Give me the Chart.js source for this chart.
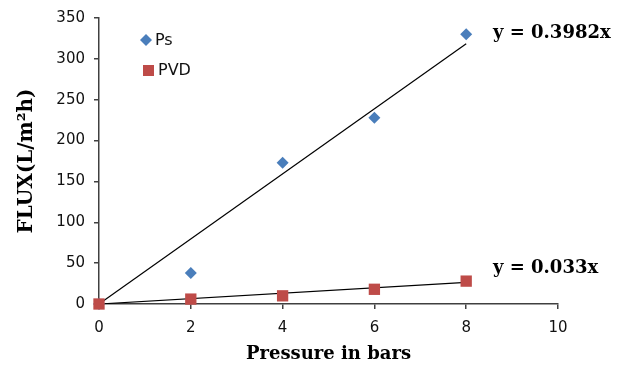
<!DOCTYPE html>
<html>
<head>
<meta charset="utf-8">
<script src="https://cdn.jsdelivr.net/npm/chart.js@4.4.1/dist/chart.umd.min.js"></script>
<style>
  html, body { margin: 0; padding: 0; background: #fff; }
  #wrap { width: 623px; height: 371px; }
</style>
</head>
<body>
<div id="wrap"><canvas id="fluxChart" width="623" height="371"></canvas></div>
<script>
// pressure (bars) and flux readings
const pressure = [0, 2, 4, 6, 8];
const psFlux = [0, 38, 173, 228, 330];
const pvdFlux = [0, 6, 10, 18, 28];

// trendline slopes (drawn through origin) and their printed equations
const trendSlopes = [39.82, 3.3];
const trendLabels = ['y = 0.3982x', 'y = 0.033x'];
const seriesNames = ['Ps', 'PVD'];

const xTicks = [0, 2, 4, 6, 8, 10];
const yTicks = [0, 50, 100, 150, 200, 250, 300, 350];

const psColor = '#4a7ebb';
const pvdColor = '#be4b48';
const axisColor = '#404040';

const toPoints = (xs, ys) => xs.map((x, i) => ({ x: x, y: ys[i] }));
const trendPoints = slope => [{ x: 0, y: 0 }, { x: 8, y: 8 * slope }];

// legend + equation text, drawn on top
const overlay = {
    id: 'overlay',
    afterDraw(chart) {
        const ctx = chart.ctx;
        const ys = chart.scales.y;
        ctx.save();

        // legend in the upper left of the plot
        ctx.fillStyle = psColor;
        ctx.beginPath();
        ctx.moveTo(146, 34); ctx.lineTo(152, 40); ctx.lineTo(146, 46); ctx.lineTo(140, 40);
        ctx.closePath();
        ctx.fill();
        ctx.fillStyle = pvdColor;
        ctx.fillRect(143, 65, 11, 11);

        ctx.fillStyle = '#111';
        ctx.font = '16px "DejaVu Sans"';
        ctx.textBaseline = 'middle';
        ctx.textAlign = 'left';
        ctx.fillText(seriesNames[0], 155, 41);
        ctx.fillText(seriesNames[1], 158, 71);

        // trendline equations
        ctx.font = 'bold 18px "DejaVu Serif"';
        ctx.fillStyle = '#000';
        ctx.fillText(trendLabels[0], 493, ys.getPixelForValue(8 * trendSlopes[0]) - 10);
        ctx.fillText(trendLabels[1], 493, ys.getPixelForValue(8 * trendSlopes[1]) - 14);
        ctx.restore();
    }
};

const ctx = document.getElementById('fluxChart').getContext('2d');
new Chart(ctx, {
    type: 'scatter',
    data: {
        datasets: [
            {
                label: seriesNames[0],
                data: toPoints(pressure, psFlux),
                pointStyle: 'rectRot',
                pointRadius: 6,
                backgroundColor: psColor,
                borderColor: psColor,
                borderWidth: 0,
                clip: false,
                order: 1
            },
            {
                label: seriesNames[1],
                data: toPoints(pressure, pvdFlux),
                pointStyle: 'rect',
                pointRadius: 8,
                backgroundColor: pvdColor,
                borderColor: pvdColor,
                borderWidth: 0,
                clip: false,
                order: 0
            },
            {
                label: 'Ps trend',
                type: 'line',
                data: trendPoints(trendSlopes[0]),
                borderColor: '#000',
                borderWidth: 1.2,
                pointRadius: 0,
                fill: false,
                order: 2
            },
            {
                label: 'PVD trend',
                type: 'line',
                data: trendPoints(trendSlopes[1]),
                borderColor: '#000',
                borderWidth: 1.2,
                pointRadius: 0,
                fill: false,
                order: 2
            }
        ]
    },
    options: {
        responsive: false,
        animation: false,
        layout: { padding: { left: 0, top: 16, right: 65, bottom: 0 } },
        plugins: {
            legend: { display: false },
            tooltip: { enabled: false }
        },
        scales: {
            x: {
                type: 'linear',
                min: 0,
                max: 10,
                afterBuildTicks: axis => { axis.ticks = xTicks.map(v => ({ value: v })); },
                afterFit: axis => { axis.height = 67; },
                grid: { drawOnChartArea: false, drawTicks: true, tickLength: 5, color: axisColor, lineWidth: 1.5 },
                border: { color: axisColor, width: 1.5 },
                ticks: { color: '#111', font: { family: 'DejaVu Sans', size: 15 }, padding: 10 },
                title: {
                    display: true,
                    text: 'Pressure in bars',
                    color: '#000',
                    font: { family: 'DejaVu Serif', size: 18, weight: 'bold' },
                    padding: { top: 0, bottom: 6 }
                }
            },
            y: {
                type: 'linear',
                min: 0,
                max: 350,
                afterBuildTicks: axis => { axis.ticks = yTicks.map(v => ({ value: v })); },
                afterFit: axis => { axis.width = 99; },
                grid: { drawOnChartArea: false, drawTicks: true, tickLength: 5, color: axisColor, lineWidth: 1.5 },
                border: { color: axisColor, width: 1.5 },
                ticks: { color: '#111', font: { family: 'DejaVu Sans', size: 15 }, padding: 9 },
                title: {
                    display: true,
                    text: 'FLUX(L/m²h)',
                    color: '#000',
                    font: { family: 'DejaVu Serif', size: 20, weight: 'bold' },
                    padding: { top: 15, bottom: 0 }
                }
            }
        }
    },
    plugins: [overlay]
});
</script>
</body>
</html>
